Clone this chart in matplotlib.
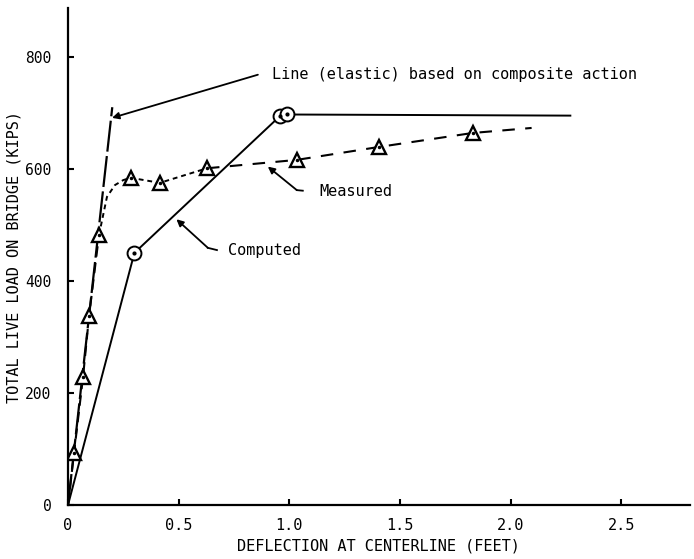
import matplotlib
matplotlib.use("Agg")
import matplotlib.pyplot as plt

plt.rcParams['font.family'] = ['DejaVu Sans Mono']

# computed curve (solid, circled points)
comp_defl = [0.0, 0.30, 0.96, 0.99, 2.27]
comp_load = [0, 450, 695, 697, 695]
comp_marked = [1, 2, 3]

# measured points (triangles)
meas_defl = [0.027, 0.068, 0.095, 0.14, 0.284, 0.415, 0.628, 1.034, 1.404, 1.828]
meas_load = [92, 229, 337, 482, 584, 575, 601, 616, 639, 664]

# measured line trace as drawn
trace_defl = [0.0, 0.027, 0.068, 0.095, 0.14, 0.176, 0.212, 0.25, 0.284, 0.415, 0.628, 1.034, 1.404, 1.828, 2.095]
trace_load = [0, 92, 229, 337, 482, 550, 571, 580, 584, 575, 601, 616, 639, 664, 673]

# elastic line based on composite action
elastic_defl = [0.0, 0.20]
elastic_load = [0, 710]

fig = plt.figure(figsize=(6.94, 5.59), dpi=100)
ax = fig.add_axes([0.098, 0.0966, 0.896, 0.889])

# elastic line
ax.plot(elastic_defl, elastic_load, color='black', lw=1.6, dashes=(14, 2))

# measured line in three pieces (long dash / short dash / long dash)
ax.plot(trace_defl[:5], trace_load[:5], color='black', lw=1.5, dashes=(5, 3))
ax.plot(trace_defl[4:11], trace_load[4:11], color='black', lw=1.4, dashes=(2.5, 2))
ax.plot(trace_defl[10:], trace_load[10:], color='black', lw=1.5, dashes=(6, 5))
ax.plot(meas_defl, meas_load, ls='none', marker='^', ms=9.5, mfc='white',
        mec='black', mew=1.7)
ax.plot(meas_defl, meas_load, ls='none', marker='.', ms=3, color='black')

# computed line
ax.plot(comp_defl, comp_load, color='black', lw=1.4)
cx = [comp_defl[i] for i in comp_marked]
cy = [comp_load[i] for i in comp_marked]
ax.plot(cx, cy, ls='none', marker='o', ms=10, mfc='white', mec='black', mew=1.4)
ax.plot(cx, cy, ls='none', marker='.', ms=4, color='black')

# annotations: leaders drawn explicitly, labels as plain text
arrow = dict(arrowstyle='-|>', color='black', lw=1.3, mutation_scale=10,
             shrinkA=0, shrinkB=0)
ax.annotate("", xy=(0.199, 691), xytext=(0.858, 768), arrowprops=arrow)
ax.text(0.921, 768, "Line (elastic) based on composite action",
        ha='left', va='center', fontsize=11)

ax.plot([1.061, 1.034], [561, 562], color='black', lw=1.3)
ax.annotate("", xy=(0.903, 604), xytext=(1.034, 562), arrowprops=arrow)
ax.text(1.138, 559, "Measured", ha='left', va='center', fontsize=11)

ax.plot([0.673, 0.632], [455, 459], color='black', lw=1.3)
ax.annotate("", xy=(0.49, 510), xytext=(0.632, 459), arrowprops=arrow)
ax.text(0.722, 455, "Computed", ha='left', va='center', fontsize=11)

ax.set_xlim(0, 2.81)
ax.set_ylim(0, 887)
ax.set_xticks([0, 0.5, 1.0, 1.5, 2.0, 2.5])
ax.set_xticklabels(['0', '0.5', '1.0', '1.5', '2.0', '2.5'])
ax.set_yticks([0, 200, 400, 600, 800])
ax.tick_params(direction='in', length=4, width=1.5, labelsize=11)
ax.tick_params(axis='x', pad=9)
ax.tick_params(axis='y', pad=12, labelsize=10.5)
for s in ['top', 'right']:
    ax.spines[s].set_visible(False)
for s in ['left', 'bottom']:
    ax.spines[s].set_linewidth(1.6)

ax.set_xlabel("DEFLECTION AT CENTERLINE (FEET)", fontsize=11, labelpad=4)
ax.set_ylabel("TOTAL LIVE LOAD ON BRIDGE (KIPS)", fontsize=11)
ax.yaxis.set_label_coords(-0.074, 0.5)

fig.savefig("out.png", dpi=100)
